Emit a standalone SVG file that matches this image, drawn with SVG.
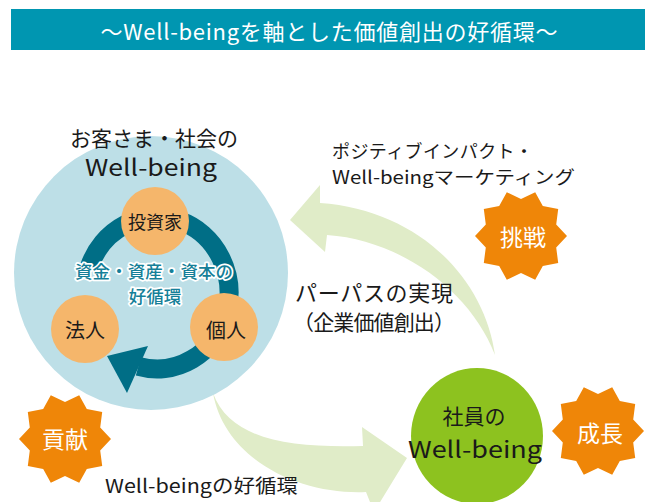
<svg xmlns="http://www.w3.org/2000/svg" xmlns:xlink="http://www.w3.org/1999/xlink" width="645" height="502" viewBox="0 0 645 502">
<style>
  .jp { font-family: "Noto Sans CJK JP", "Noto Sans", sans-serif; }
  .dark { fill: #1a1a1a; }
  .white { fill: #ffffff; }
  .mid { text-anchor: middle; }
  .c { dominant-baseline: central; }
  .flow { fill: #e0ecc8; }
  .star { fill: #ef8608; }
  .person { fill: #f5b66b; }
  .ringtext { fill: #157f98; font-weight: 500; stroke: #ffffff; stroke-width: 3.5; stroke-linejoin: round; paint-order: stroke; }
</style>
<defs>
  <polygon id="star10" points="46,0 35.2,11.4 37.2,27 21.8,29.9 14.2,43.7 0,37 -14.2,43.7 -21.8,29.9 -37.2,27 -35.2,11.4 -46,0 -35.2,-11.4 -37.2,-27 -21.8,-29.9 -14.2,-43.7 0,-37 14.2,-43.7 21.8,-29.9 37.2,-27 35.2,-11.4"/>
</defs>

<g id="title">
  <rect x="11" y="9" width="634" height="41" fill="#0096b1"/>
  <text class="jp white mid c" x="329" y="30" font-size="22" textLength="457">～Well-beingを軸とした価値創出の好循環～</text>
</g>

<g id="connectors">
  <path id="arrow-upper" class="flow" d="M495,355 C485,280 420,210 320,203 L320,185 L290,220 L325,252 L327,235 C400,240 470,290 495,355 Z"/>
  <path id="arrow-lower" class="flow" d="M213,393 C230,440 290,448 363,446 L362,427 L407,458 L374,512 L366,492 C300,495 225,460 213,393 Z"/>
</g>

<g id="node-society">
  <circle cx="151" cy="273" r="137" fill="#bddfe7"/>
  <text class="jp dark mid c" x="154" y="137" font-size="21" textLength="168">お客さま・社会の</text>
  <text class="jp dark mid" x="151" y="176" font-size="23" textLength="132" lengthAdjust="spacingAndGlyphs">Well-being</text>
</g>

<g id="cycle-ring">
  <path d="M89.3,267 A72,76 0 1 1 138.4,366.4" fill="none" stroke="#006e86" stroke-width="19"/>
  <polygon points="107,356 148,346 127,393" fill="#006e86"/>
</g>

<g id="node-investor">
  <circle class="person" cx="155" cy="221" r="34"/>
  <text class="jp dark mid c" x="155" y="221" font-size="18">投資家</text>
</g>
<g id="node-individual">
  <circle class="person" cx="224" cy="327" r="34"/>
  <text class="jp dark mid c" x="226" y="329" font-size="20">個人</text>
</g>
<g id="node-corporate">
  <circle class="person" cx="85" cy="329" r="34"/>
  <text class="jp dark mid c" x="85" y="329" font-size="20">法人</text>
</g>

<g id="cycle-label">
  <text class="jp ringtext mid c" x="154" y="270" font-size="17.5" textLength="158">資金・資産・資本の</text>
  <text class="jp ringtext mid c" x="155" y="295" font-size="17.5">好循環</text>
</g>

<g id="labels">
  <text class="jp dark c" x="332" y="150" font-size="18" textLength="201">ポジティブインパクト・</text>
  <text class="jp dark c" x="332" y="176" font-size="18" textLength="243" lengthAdjust="spacingAndGlyphs">Well-beingマーケティング</text>
  <text class="jp dark c" x="295" y="291" font-size="22" textLength="158">パーパスの実現</text>
  <text class="jp dark c" x="293" y="321" font-size="21" textLength="162">（企業価値創出）</text>
  <text class="jp dark c" x="105" y="484" font-size="19" textLength="193" lengthAdjust="spacingAndGlyphs">Well-beingの好循環</text>
</g>

<g id="node-employee">
  <ellipse cx="477" cy="436" rx="66" ry="68" fill="#8dc21f"/>
  <text class="jp dark mid c" x="474" y="415" font-size="21">社員の</text>
  <text class="jp dark mid" x="475" y="458" font-size="23" textLength="134" lengthAdjust="spacingAndGlyphs">Well-being</text>
</g>

<g id="star-challenge">
  <use xlink:href="#star10" class="star" transform="translate(521,236)"/>
  <text class="jp white mid c" x="523" y="236" font-size="23">挑戦</text>
</g>
<g id="star-growth">
  <use xlink:href="#star10" class="star" transform="translate(598,431)"/>
  <text class="jp white mid c" x="600" y="432" font-size="23">成長</text>
</g>
<g id="star-contribution">
  <use xlink:href="#star10" class="star" transform="translate(65,439)"/>
  <text class="jp white mid c" x="65" y="438" font-size="23">貢献</text>
</g>
</svg>
